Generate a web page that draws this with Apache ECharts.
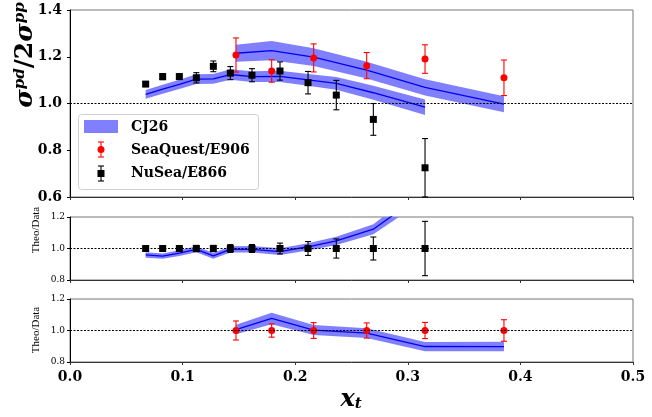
<!DOCTYPE html>
<html>
<head>
<meta charset="utf-8">
<script src="https://cdn.jsdelivr.net/npm/echarts@6/dist/echarts.min.js"></script>
<style>
  html, body { margin: 0; padding: 0; background: #fff; }
  #chart { width: 652px; height: 417px; }
</style>
</head>
<body>
<div id="chart"></div>
<script>
// NuSea / E866 data and CJ26 theory at the same x_t
const nuseaX = [0.0672, 0.0823, 0.0971, 0.1122, 0.1273, 0.1424, 0.1616, 0.1865, 0.2114, 0.2365, 0.2694, 0.3153]
const nuseaVal = [1.083, 1.115, 1.115, 1.110, 1.159, 1.130, 1.121, 1.139, 1.089, 1.036, 0.932, 0.725]
const nuseaErr = [0.010, 0.013, 0.012, 0.022, 0.023, 0.028, 0.028, 0.039, 0.048, 0.063, 0.068, 0.125]
const nuseaTheo = [1.039, 1.061, 1.082, 1.104, 1.105, 1.124, 1.115, 1.116, 1.101, 1.086, 1.046, 0.984]
const nuseaTheoErr = [0.019, 0.019, 0.020, 0.021, 0.021, 0.022, 0.023, 0.024, 0.025, 0.027, 0.030, 0.033]

// SeaQuest / E906 data and CJ26 theory
const seaX = [0.1474, 0.1791, 0.2164, 0.2635, 0.3153, 0.3854]
const seaVal = [1.2075, 1.139, 1.195, 1.162, 1.190, 1.110]
const seaErr = [0.073, 0.048, 0.060, 0.056, 0.061, 0.076]
const seaTheo = [1.215, 1.226, 1.198, 1.143, 1.069, 0.997]
const seaTheoErr = [0.036, 0.041, 0.038, 0.036, 0.035, 0.034]

const xTicks = [0.0, 0.1, 0.2, 0.3, 0.4, 0.5]

const BAND = '#8080ff'
const LINE = '#0000ee'
const RED = '#ff0000'
const BLACK = '#000000'

// helpers -------------------------------------------------------------
function pts(xs, ys) {
  return xs.map((x, i) => [x, ys[i]])
}
function ratio(num, den) {
  return num.map((v, i) => v / den[i])
}
function band(xs, mid, err) {
  return xs.map((x, i) => [x, mid[i] - err[i], mid[i] + err[i]])
}
function bandSeries(idx, data) {
  return {
    type: 'custom',
    xAxisIndex: idx,
    yAxisIndex: idx,
    clip: true,
    silent: true,
    z: 1,
    data: data,
    renderItem(params, api) {
      if (params.dataIndex !== 0) return
      const up = data.map(d => api.coord([d[0], d[2]]))
      const lo = data.map(d => api.coord([d[0], d[1]])).reverse()
      return {
        type: 'polygon',
        shape: { points: up.concat(lo) },
        style: { fill: BAND }
      }
    }
  }
}
function lineSeries(idx, data) {
  return {
    type: 'line',
    xAxisIndex: idx,
    yAxisIndex: idx,
    data: data,
    showSymbol: false,
    silent: true,
    z: 2,
    lineStyle: { color: LINE, width: 1.3 },
    itemStyle: { color: LINE }
  }
}
function errSeries(idx, data, color) {
  return {
    type: 'custom',
    xAxisIndex: idx,
    yAxisIndex: idx,
    clip: false,
    silent: true,
    z: 3,
    data: data,
    renderItem(params, api) {
      const x = api.value(0), y = api.value(1), e = api.value(2)
      const a = api.coord([x, y + e])
      const b = api.coord([x, y - e])
      const w = 3
      const st = { stroke: color, lineWidth: 1.1 }
      return {
        type: 'group',
        children: [
          { type: 'line', shape: { x1: a[0], y1: a[1], x2: b[0], y2: b[1] }, style: st },
          { type: 'line', shape: { x1: a[0] - w, y1: a[1], x2: a[0] + w, y2: a[1] }, style: st },
          { type: 'line', shape: { x1: b[0] - w, y1: b[1], x2: b[0] + w, y2: b[1] }, style: st }
        ]
      }
    }
  }
}
function markSeries(idx, data, symbol, color) {
  const s = {
    type: 'scatter',
    xAxisIndex: idx,
    yAxisIndex: idx,
    data: data,
    symbol: symbol,
    symbolSize: symbol === 'rect' ? 7 : 7,
    silent: true,
    z: 4,
    itemStyle: { color: color, opacity: 1 }
  }
  return s
}
function oneLine(idx) {
  return {
    type: 'line',
    xAxisIndex: idx,
    yAxisIndex: idx,
    data: [],
    silent: true,
    z: 0,
    markLine: {
      silent: true,
      symbol: 'none',
      label: { show: false },
      lineStyle: { color: '#000', width: 1, type: [2, 1.5] },
      data: [{ yAxis: 1 }]
    }
  }
}
function xAxis(idx, showLabel) {
  return {
    type: 'value',
    gridIndex: idx,
    min: 0,
    max: 0.5,
    interval: 0.1,
    splitLine: { show: false },
    axisLine: { onZero: false, lineStyle: { color: '#333', width: 1 } },
    axisTick: { show: true, inside: false, length: 3, lineStyle: { color: '#333' } },
    axisLabel: {
      show: showLabel,
      margin: 8,
      color: '#000',
      fontFamily: 'DejaVu Serif',
      fontWeight: 'bold',
      fontSize: 14,
      formatter: v => v.toFixed(1)
    }
  }
}
function yAxis(idx, min, max, fs, margin) {
  return {
    type: 'value',
    gridIndex: idx,
    min: min,
    max: max,
    interval: 0.2,
    splitLine: { show: false },
    axisLine: { onZero: false, lineStyle: { color: '#000', width: 1 } },
    axisTick: { show: true, inside: false, length: 3, lineStyle: { color: '#000' } },
    axisLabel: {
      margin: margin,
      color: '#000',
      fontFamily: 'DejaVu Serif',
      fontWeight: fs > 10 ? 'bold' : 'normal',
      fontSize: fs,
      formatter: v => v.toFixed(1)
    }
  }
}

// derived ratio panels
const nuseaOne = nuseaX.map((x, i) => [x, 1, nuseaErr[i] / nuseaVal[i]])
const seaOne = seaX.map((x, i) => [x, 1, seaErr[i] / seaVal[i]])
const nuseaRatio = ratio(nuseaTheo, nuseaVal)
const seaRatio = ratio(seaTheo, seaVal)
const nuseaRatioErr = ratio(nuseaTheoErr, nuseaVal)
const seaRatioErr = ratio(seaTheoErr, seaVal)

const chart = echarts.init(document.getElementById('chart'), null, { renderer: 'canvas' })

const serif = 'DejaVu Serif'

chart.setOption({
  backgroundColor: '#fff',
  animation: false,
  grid: [
    { left: 70, top: 10, width: 563, height: 187, show: true, borderColor: '#777', borderWidth: 1 },
    { left: 70, top: 217, width: 563, height: 63, show: true, borderColor: '#777', borderWidth: 1 },
    { left: 70, top: 299, width: 563, height: 63, show: true, borderColor: '#777', borderWidth: 1 }
  ],
  xAxis: [xAxis(0, false), xAxis(1, false), xAxis(2, true)],
  yAxis: [yAxis(0, 0.6, 1.4, 14, 8), yAxis(1, 0.8, 1.2, 9, 5), yAxis(2, 0.8, 1.2, 9, 5)],
  series: [
    oneLine(0), oneLine(1), oneLine(2),
    // top panel
    bandSeries(0, band(seaX, seaTheo, seaTheoErr)),
    bandSeries(0, band(nuseaX, nuseaTheo, nuseaTheoErr)),
    lineSeries(0, pts(seaX, seaTheo)),
    lineSeries(0, pts(nuseaX, nuseaTheo)),
    errSeries(0, seaX.map((x, i) => [x, seaVal[i], seaErr[i]]), RED),
    errSeries(0, nuseaX.map((x, i) => [x, nuseaVal[i], nuseaErr[i]]), BLACK),
    markSeries(0, pts(seaX, seaVal), 'circle', RED),
    markSeries(0, pts(nuseaX, nuseaVal), 'rect', BLACK),
    // NuSea ratio panel
    bandSeries(1, band(nuseaX, nuseaRatio, nuseaRatioErr)),
    lineSeries(1, pts(nuseaX, nuseaRatio)),
    errSeries(1, nuseaOne, BLACK),
    markSeries(1, nuseaOne.map(d => [d[0], d[1]]), 'rect', BLACK),
    // SeaQuest ratio panel
    bandSeries(2, band(seaX, seaRatio, seaRatioErr)),
    lineSeries(2, pts(seaX, seaRatio)),
    errSeries(2, seaOne, RED),
    markSeries(2, seaOne.map(d => [d[0], d[1]]), 'circle', RED)
  ],
  graphic: [
    // y title of top panel
    {
      type: 'text',
      x: 25, y: 55,
      rotation: Math.PI / 2,
      style: {
        text: '{s|σ}{p|pd}{n|/2}{s|σ}{p|pp}',
        align: 'center',
        verticalAlign: 'middle',
        rich: {
          s: { fontFamily: serif, fontStyle: 'italic', fontWeight: 'bold', fontSize: 25, fill: '#000' },
          n: { fontFamily: serif, fontWeight: 'bold', fontSize: 25, fill: '#000' },
          p: { fontFamily: serif, fontStyle: 'italic', fontWeight: 'bold', fontSize: 15, fill: '#000', verticalAlign: 'top' }
        }
      }
    },
    {
      type: 'text', x: 36, y: 230, rotation: Math.PI / 2,
      style: { text: 'Theo/Data', align: 'center', verticalAlign: 'middle', fontFamily: 'Liberation Serif', fontSize: 11, fill: '#000' }
    },
    {
      type: 'text', x: 36, y: 330, rotation: Math.PI / 2,
      style: { text: 'Theo/Data', align: 'center', verticalAlign: 'middle', fontFamily: 'Liberation Serif', fontSize: 11, fill: '#000' }
    },
    // x title
    {
      type: 'text', x: 351, y: 400,
      style: {
        text: '{x|x}{t|t}',
        align: 'center', verticalAlign: 'middle',
        rich: {
          x: { fontFamily: serif, fontStyle: 'italic', fontWeight: 'bold', fontSize: 24, fill: '#000' },
          t: { fontFamily: serif, fontStyle: 'italic', fontWeight: 'bold', fontSize: 15, fill: '#000', verticalAlign: 'bottom' }
        }
      }
    },
    // legend
    {
      type: 'group',
      z: 10,
      children: [
        { type: 'rect', shape: { x: 78.5, y: 114.5, width: 180, height: 75, r: 3 }, style: { fill: 'rgba(255,255,255,0.85)', stroke: '#d0d0d0', lineWidth: 1 } },
        { type: 'rect', shape: { x: 84, y: 120, width: 34, height: 13 }, style: { fill: BAND } },
        { type: 'text', x: 131, y: 127, style: { text: 'CJ26', fontFamily: serif, fontWeight: 'bold', fontSize: 14, fill: '#000', verticalAlign: 'middle' } },
        { type: 'line', shape: { x1: 101, y1: 142, x2: 101, y2: 157 }, style: { stroke: RED, lineWidth: 1.1 } },
        { type: 'line', shape: { x1: 98, y1: 142, x2: 104, y2: 142 }, style: { stroke: RED, lineWidth: 1.1 } },
        { type: 'line', shape: { x1: 98, y1: 157, x2: 104, y2: 157 }, style: { stroke: RED, lineWidth: 1.1 } },
        { type: 'circle', shape: { cx: 101, cy: 149.5, r: 3.5 }, style: { fill: RED } },
        { type: 'text', x: 131, y: 150, style: { text: 'SeaQuest/E906', fontFamily: serif, fontWeight: 'bold', fontSize: 14, fill: '#000', verticalAlign: 'middle' } },
        { type: 'line', shape: { x1: 101, y1: 166, x2: 101, y2: 181 }, style: { stroke: BLACK, lineWidth: 1.1 } },
        { type: 'line', shape: { x1: 98, y1: 166, x2: 104, y2: 166 }, style: { stroke: BLACK, lineWidth: 1.1 } },
        { type: 'line', shape: { x1: 98, y1: 181, x2: 104, y2: 181 }, style: { stroke: BLACK, lineWidth: 1.1 } },
        { type: 'rect', shape: { x: 97.5, y: 170, width: 7, height: 7 }, style: { fill: BLACK } },
        { type: 'text', x: 131, y: 173.5, style: { text: 'NuSea/E866', fontFamily: serif, fontWeight: 'bold', fontSize: 14, fill: '#000', verticalAlign: 'middle' } }
      ]
    }
  ]
})
</script>
</body>
</html>
